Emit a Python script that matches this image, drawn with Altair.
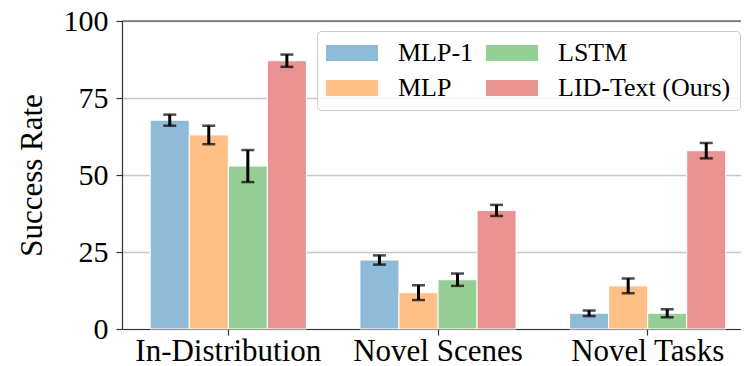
import altair as alt
import pandas as pd

categories = ["In-Distribution", "Novel Scenes", "Novel Tasks"]
methods = ["MLP-1", "MLP", "LSTM", "LID-Text (Ours)"]

mlp1_mean = [67.8, 22.4, 5.1]
mlp1_err = [1.8, 1.5, 0.9]
mlp_mean = [63.0, 11.8, 14.0]
mlp_err = [3.0, 2.4, 2.4]
lstm_mean = [52.9, 16.0, 5.1]
lstm_err = [5.2, 2.0, 1.3]
lid_mean = [87.1, 38.5, 57.9]
lid_err = [2.0, 1.8, 2.5]

method_colors = ["#8fbbd9", "#ffbf86", "#95cf95", "#ea9393"]
y_ticks = [0, 25, 50, 75, 100]

rows = []
for m, means, errs in zip(methods,
                          [mlp1_mean, mlp_mean, lstm_mean, lid_mean],
                          [mlp1_err, mlp_err, lstm_err, lid_err]):
    for c, v, e in zip(categories, means, errs):
        rows.append({"category": c, "method": m, "value": v, "lo": v - e, "hi": v + e})
df = pd.DataFrame(rows)

FONT = "Liberation Serif"
SPINE = "#333333"

x_enc = alt.X("category:N", sort=categories,
              scale=alt.Scale(paddingInner=0, paddingOuter=0.007, range=[0, 632]),
              axis=alt.Axis(title=None, labelAngle=0, labelFont=FONT, labelFontSize=31,
                            labelColor="black", labelPadding=1, tickSize=6, grid=False,
                            labelLimit=0))
xo_enc = alt.XOffset("method:N", sort=methods,
                     scale=alt.Scale(paddingInner=0, paddingOuter=0.686))
y_axis = alt.Axis(values=y_ticks, title="Success Rate", grid=True,
                  labelFont=FONT, titleFont=FONT, labelColor="black", titleColor="black",
                  labelFontSize=30, titleFontSize=31, titleFontWeight="normal",
                  labelPadding=8, tickSize=6, titlePadding=15)
y_scale = alt.Scale(domain=[y_ticks[0], y_ticks[-1]], nice=False)

base = alt.Chart(df)

bars = base.mark_bar(stroke="white", strokeWidth=1).encode(
    x=x_enc,
    xOffset=xo_enc,
    y=alt.Y("value:Q", scale=y_scale, axis=y_axis),
    color=alt.Color("method:N",
                    scale=alt.Scale(domain=methods, range=method_colors),
                    legend=alt.Legend(title=None, orient="none", legendX=195, legendY=10,
                                      columns=2,
                                      symbolType="M-3.25,-1L3.25,-1L3.25,1L-3.25,1Z",
                                      symbolSize=256, symbolStrokeWidth=0, symbolOffset=13,
                                      labelFont=FONT, labelFontSize=26, labelColor="black",
                                      labelOffset=33, columnPadding=12, rowPadding=9,
                                      padding=9, strokeColor="#cccccc", cornerRadius=4,
                                      fillColor="rgba(255,255,255,0.8)", labelLimit=0)),
)

stems = base.mark_rule(color="black", strokeWidth=3).encode(
    x=x_enc, xOffset=xo_enc,
    y=alt.Y("lo:Q", scale=y_scale, axis=y_axis), y2="hi:Q",
)
cap_hi = base.mark_tick(color="black", thickness=2.5, size=13).encode(
    x=x_enc, xOffset=xo_enc, y=alt.Y("hi:Q", scale=y_scale, axis=y_axis),
)
cap_lo = base.mark_tick(color="black", thickness=2.5, size=13).encode(
    x=x_enc, xOffset=xo_enc, y=alt.Y("lo:Q", scale=y_scale, axis=y_axis),
)
top_spine = alt.Chart(pd.DataFrame({"top": [y_ticks[-1]]})).mark_rule(
    color=SPINE, strokeWidth=1.2
).encode(y=alt.Y("top:Q", scale=y_scale, axis=y_axis))

chart = alt.layer(bars, stems, cap_hi, cap_lo, top_spine).properties(
    width=619, height=308,
    autosize=alt.AutoSizeParams(type="none"),
    padding={"left": 114, "top": 13, "right": 0, "bottom": 45},
).configure(
    font=FONT
).configure_view(
    stroke=None
).configure_axis(
    domainColor=SPINE, domainWidth=1.2, tickColor=SPINE, tickWidth=1.2,
    gridColor="#c8c8c8", gridWidth=1.5,
)

chart.save("out.html", embed_options={"renderer": "svg", "actions": False})
